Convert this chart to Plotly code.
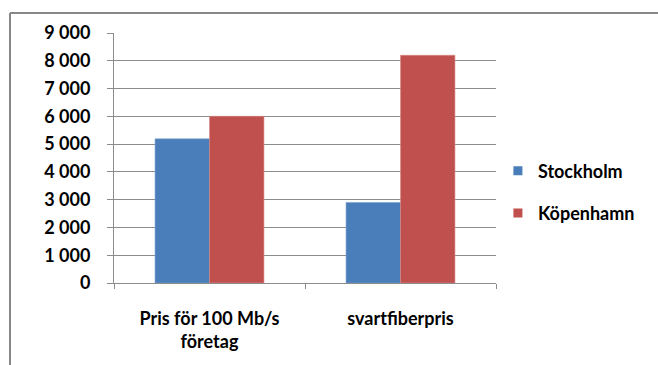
import plotly.graph_objects as go

# Chart data
categories = ["Pris för 100 Mb/s<br>företag", "svartfiberpris"]
series_names = ["Stockholm", "Köpenhamn"]
stockholm = [5190, 2900]
kopenhamn = [6000, 8200]
y_ticks = [0, 1000, 2000, 3000, 4000, 5000, 6000, 7000, 8000, 9000]

W, H = 658, 365
L, R, T, B = 114, 162, 33, 82

FONT = "Lato"
FS = 18
GRID = "#8c8c8c"
colors = ["#4a7ebb", "#c0504d"]
edges = ["#7a9fd0", "#d98a87"]

fig = go.Figure()
for name, vals, col, edge in zip(series_names, [stockholm, kopenhamn], colors, edges):
    fig.add_trace(go.Bar(
        name=name, x=categories, y=vals,
        marker=dict(color=col, line=dict(color=edge, width=0.6)),
        showlegend=False,
    ))
# Legend entries with small square swatches
for i, (name, col) in enumerate(zip(series_names, colors)):
    fig.add_trace(go.Scatter(
        name=name, x=[None], y=[None], mode="markers",
        marker=dict(symbol="square", size=9, color=col),
        legendgroup=f"g{i}", showlegend=True,
    ))

fig.update_layout(
    width=W, height=H,
    margin=dict(l=L, r=R, t=T, b=B, pad=0),
    paper_bgcolor="white", plot_bgcolor="white",
    barmode="group", bargap=0.43, bargroupgap=0,
    separators=", ",
    font=dict(family=FONT, size=FS, color="#000000"),
    legend=dict(
        x=1.005, xanchor="left", y=0.364, yanchor="middle",
        traceorder="grouped", tracegroupgap=16,
        font=dict(family=FONT, size=FS, color="#000000", weight="bold"),
        itemwidth=30, bgcolor="rgba(0,0,0,0)",
    ),
    xaxis=dict(
        showline=True, linecolor=GRID, linewidth=1,
        ticks="outside", tickson="boundaries", ticklen=5, tickcolor=GRID,
        tickfont=dict(family=FONT, size=FS, color="#000000", weight="bold"),
        ticklabelstandoff=19,
        showgrid=False,
    ),
    yaxis=dict(
        range=[0, 9000], tickvals=y_ticks, tickformat=",d",
        showline=True, linecolor=GRID, linewidth=1,
        ticks="outside", ticklen=6, tickcolor=GRID,
        showgrid=True, gridcolor=GRID, gridwidth=1,
        tickfont=dict(family=FONT, size=FS, color="#000000", weight="bold"),
        ticklabelstandoff=13,
        zeroline=False,
    ),
)

# Frame around the chart area (top and left edges visible)
top_y = (H - B - 13) / (H - T - B)
left_x = (10 - L) / (W - L - R)
fig.add_shape(type="line", xref="paper", yref="paper",
              x0=left_x, x1=(W - L) / (W - L - R) + 0.01, y0=top_y, y1=top_y,
              line=dict(color="#888888", width=2))
fig.add_shape(type="line", xref="paper", yref="paper",
              x0=left_x, x1=left_x, y0=top_y, y1=-(B + 5) / (H - T - B),
              line=dict(color="#888888", width=2))

fig.write_html("out.html")
